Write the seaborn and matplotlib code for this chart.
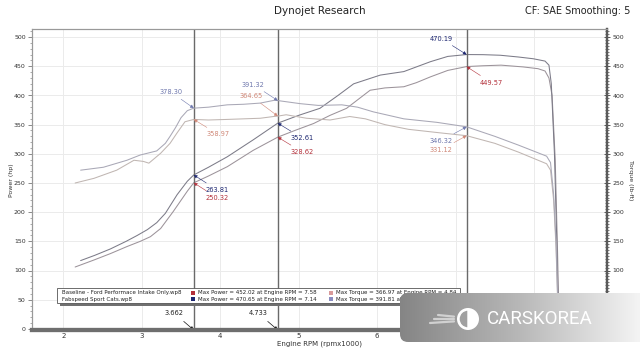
import numpy as np
import pandas as pd
import matplotlib
matplotlib.use("Agg")
import matplotlib.pyplot as plt
import seaborn as sns
from matplotlib.patches import Rectangle, FancyBboxPatch, Circle, Wedge

# ---- data ----
fab_power_rpm = [2.22, 2.40, 2.60, 2.80, 2.94, 3.07, 3.19, 3.30, 3.45, 3.58, 3.662, 3.85, 4.09, 4.42,
                 4.733, 5.00, 5.27, 5.50, 5.70, 6.04, 6.34, 6.68, 6.90, 7.14, 7.35, 7.57, 7.80, 7.99,
                 8.14, 8.19, 8.22, 8.26, 8.29, 8.31]
fab_power = [117, 126, 137, 150, 160, 170, 182, 198, 230, 253, 263.81, 277, 295, 324,
             352.61, 366, 378, 400, 420, 435, 441, 458, 467, 470.19, 470, 469, 466, 463,
             459, 452, 420, 300, 150, 20]

base_power_rpm = [2.15, 2.39, 2.60, 2.81, 2.98, 3.11, 3.24, 3.40, 3.58, 3.662, 3.85, 4.09, 4.42, 4.733,
                  4.95, 5.19, 5.40, 5.61, 5.91, 6.10, 6.34, 6.50, 6.68, 6.90, 7.14, 7.35, 7.58, 7.86,
                  8.05, 8.14, 8.19, 8.23, 8.27, 8.30, 8.32]
base_power = [106, 118, 129, 141, 150, 158, 172, 201, 236, 250.32, 262, 278, 306, 328.62,
              340, 352, 366, 378, 409, 413, 415, 422, 432, 443, 449.57, 451, 452.02, 449,
              446, 442, 430, 400, 290, 130, 10]

fab_torque_rpm = [2.22, 2.51, 2.81, 2.98, 3.10, 3.19, 3.30, 3.36, 3.43, 3.50, 3.58, 3.662, 3.85, 4.09,
                  4.30, 4.51, 4.69, 4.733, 5.02, 5.25, 5.55, 5.75, 5.95, 6.34, 6.76, 7.14, 7.50, 7.80,
                  8.16, 8.21, 8.25, 8.28, 8.31]
fab_torque = [272, 277, 289, 298, 302, 305, 318, 330, 345, 362, 374, 378.30, 380, 384,
              385, 387, 391.81, 391.32, 386, 383, 384, 380, 372, 360, 354, 346.32, 330, 315,
              296, 285, 230, 150, 10]

base_torque_rpm = [2.15, 2.39, 2.68, 2.90, 3.02, 3.09, 3.24, 3.36, 3.45, 3.55, 3.662, 3.85, 4.09, 4.30,
                   4.51, 4.68, 4.733, 4.84, 5.10, 5.40, 5.65, 5.85, 6.10, 6.40, 6.80, 7.14, 7.50, 7.80,
                   8.16, 8.21, 8.25, 8.28, 8.31]
base_torque = [250, 258, 272, 289, 287, 284, 301, 318, 336, 355, 358.97, 358, 359, 360,
               361, 364, 364.65, 366.97, 361, 358, 364, 360, 350, 342, 336, 331.12, 318, 303,
               283, 272, 220, 140, 10]

cursor_rpm = [3.662, 4.733, 7.14]

run_names = ["Baseline - Ford Performace Intake Only.wp8", "Fabspeed Sport Cats.wp8"]
max_power_text = ["Max Power = 452.02 at Engine RPM = 7.58", "Max Power = 470.65 at Engine RPM = 7.14"]
max_torque_text = ["Max Torque = 366.97 at Engine RPM = 4.84", "Max Torque = 391.81 at Engine RPM = 4.69"]

# colours
c_fab_pw, c_base_pw = "#1c2670", "#b3303a"
c_fab_tq, c_base_tq = "#6f78ad", "#d08878"
line_cols = {"fab_power": "#7c7b88", "base_power": "#9c939a",
             "fab_torque": "#a9a8b6", "base_torque": "#c0b6b2"}

W, H = 640, 360


def px(x, y):
    """pixel position (from top-left) -> figure fraction"""
    return x / W, 1 - y / H


def curve(rpm, val, name):
    return pd.DataFrame({"rpm": rpm, "value": val, "run": name})


power_df = pd.concat([curve(base_power_rpm, base_power, "base_power"),
                      curve(fab_power_rpm, fab_power, "fab_power")])
torque_df = pd.concat([curve(base_torque_rpm, base_torque, "base_torque"),
                       curve(fab_torque_rpm, fab_torque, "fab_torque")])

sns.set_style("white")
plt.rcParams["font.family"] = ["DejaVu Sans"]

fig = plt.figure(figsize=(6.4, 3.6), dpi=100)
ax = fig.add_axes([32 / W, 1 - 330 / H, (607 - 32) / W, (330 - 29) / H])
ax2 = ax.twinx()

sns.lineplot(data=power_df, x="rpm", y="value", hue="run", palette=line_cols, ax=ax,
             legend=False, linewidth=0.75, sort=False, estimator=None)
sns.lineplot(data=torque_df, x="rpm", y="value", hue="run", palette=line_cols, ax=ax2,
             legend=False, linewidth=0.75, sort=False, estimator=None)

for a in (ax, ax2):
    a.set_xlim(1.6, 8.93)
    a.set_ylim(-2, 514)
    a.set_xlabel("")
    a.set_ylabel("")

ax.set_xticks(range(2, 9))
ax.set_xticks(np.arange(2.5, 8.6, 1.0), minor=True)
ax.set_yticks(range(0, 501, 50))
ax.set_yticks(range(0, 511, 10), minor=True)
ax2.set_yticks(range(0, 501, 50))
ax2.set_yticks(range(0, 511, 5), minor=True)

ax.grid(True, which="major", color="#ebebeb", linewidth=0.7)
ax.set_axisbelow(True)

ax.tick_params(axis="x", which="both", direction="in", length=3, width=0.6, color="#777",
               labelsize=5, pad=2, labelcolor="#333")
ax.tick_params(axis="y", which="major", direction="out", length=3, width=0.6, color="#777",
               labelsize=4.5, pad=1.5, labelcolor="#333")
ax.tick_params(axis="y", which="minor", direction="out", length=1.5, width=0.5, color="#888")
ax2.tick_params(axis="y", which="major", direction="inout", length=5, width=0.7, color="#555",
                labelsize=4.5, pad=1.5, labelcolor="#333")
ax2.tick_params(axis="y", which="minor", direction="inout", length=3, width=0.6, color="#666")

for a in (ax, ax2):
    a.spines["top"].set_color("#999")
    a.spines["top"].set_linewidth(0.8)
    a.spines["left"].set_color("#999")
    a.spines["left"].set_linewidth(0.8)
    a.spines["bottom"].set_color("#6e6e6e")
    a.spines["bottom"].set_linewidth(3)
    a.spines["right"].set_color("#5a5a5a")
    a.spines["right"].set_linewidth(1.6)

ax.set_xlabel("Engine RPM (rpmx1000)", fontsize=5, color="#333", labelpad=1)
fig.text(*px(11, 180), "Power (hp)", rotation=90, fontsize=4.5, color="#333", ha="center", va="center")
fig.text(*px(631, 180), "Torque (lb-ft)", rotation=270, fontsize=4.5, color="#333", ha="center", va="center")

# cursor lines
for r in cursor_rpm:
    ax2.axvline(r, color="#6a6a6a", linewidth=1.0, zorder=1)

# cursor readouts
ann = [
    (fab_power_rpm, fab_power, 3.662, c_fab_pw, (8.6, -10.8), "left"),
    (base_power_rpm, base_power, 3.662, c_base_pw, (8.6, -10.8), "left"),
    (fab_torque_rpm, fab_torque, 3.662, c_fab_tq, (-8, 11.5), "right"),
    (base_torque_rpm, base_torque, 3.662, c_base_tq, (9.4, -10.8), "left"),
    (fab_torque_rpm, fab_torque, 4.733, c_fab_tq, (-9.4, 11.5), "right"),
    (base_torque_rpm, base_torque, 4.733, c_base_tq, (-10.8, 14.4), "right"),
    (fab_power_rpm, fab_power, 4.733, c_fab_pw, (9.4, -10.8), "left"),
    (base_power_rpm, base_power, 4.733, c_base_pw, (9.4, -10.8), "left"),
    (fab_power_rpm, fab_power, 7.14, c_fab_pw, (-10, 11.5), "right"),
    (base_power_rpm, base_power, 7.14, c_base_pw, (9.4, -11.5), "left"),
    (fab_torque_rpm, fab_torque, 7.14, c_fab_tq, (-10, -10), "right"),
    (base_torque_rpm, base_torque, 7.14, c_base_tq, (-10, -10), "right"),
]
for rpm, vals, at, col, off, ha in ann:
    v = float(np.interp(at, rpm, vals))
    ax2.annotate(f"{v:.2f}", xy=(at, v), xytext=off, textcoords="offset points",
                 fontsize=4.8, color=col, ha=ha, va="center",
                 arrowprops=dict(arrowstyle="-|>", color=col, lw=0.4, mutation_scale=5,
                                 shrinkA=1, shrinkB=0))

# rpm markers under the axis
for r in cursor_rpm[:2]:
    ax.annotate(f"{r:.3f}", xy=(r, 0), xycoords=ax.get_xaxis_transform(),
                xytext=(-14, 12), textcoords="offset points", fontsize=4.8, color="#222",
                ha="center", va="center", annotation_clip=False,
                arrowprops=dict(arrowstyle="-|>", color="#111", lw=0.5, mutation_scale=5,
                                shrinkA=2, shrinkB=0))

# titles
fig.text(*px(320, 11), "Dynojet Research", fontsize=7.5, color="#222", ha="center", va="center")
fig.text(*px(630, 11), "CF: SAE Smoothing: 5", fontsize=7, color="#222", ha="right", va="center")

# legend block
x0, y0 = px(57, 303)
fig.add_artist(Rectangle(px(60, 306), (462 - 60) / W, 4 / H, transform=fig.transFigure,
                         facecolor="#707070", edgecolor="none", zorder=5))
fig.add_artist(Rectangle((x0, y0), (460 - 57) / W, (303 - 288) / H, transform=fig.transFigure,
                         facecolor="white", edgecolor="#555", linewidth=0.6, zorder=6))
sq_cols = [(c_base_pw, "#d99a9a"), (c_fab_pw, "#8a8cc0")]
for i, yy in enumerate([292.5, 299]):
    fig.text(*px(62, yy), run_names[i], fontsize=4, color="#222", va="center", zorder=7)
    fig.add_artist(Rectangle(px(191, yy + 2), 4 / W, 4 / H, transform=fig.transFigure,
                             facecolor=sq_cols[i][0], edgecolor="none", zorder=7))
    fig.text(*px(198, yy), max_power_text[i], fontsize=4, color="#222", va="center", zorder=7)
    fig.add_artist(Rectangle(px(329, yy + 2), 4 / W, 4 / H, transform=fig.transFigure,
                             facecolor=sq_cols[i][1], edgecolor="none", zorder=7))
    fig.text(*px(336, yy), max_torque_text[i], fontsize=4, color="#222", va="center", zorder=7)

# watermark (local axes in pixel units)
wx, wy = px(400, 342)
wax = fig.add_axes([wx, wy, 240 / W, 49 / H], zorder=10)
wax.set_axis_off()
wax.set_xlim(0, 240)
wax.set_ylim(0, 49)
grad = np.linspace(0, 1, 256)[None, :]
im = wax.imshow(grad, cmap=matplotlib.colors.LinearSegmentedColormap.from_list(
    "wm", ["#858585", "#b8b8b8", "#f4f4f4"]), aspect="auto", extent=(0, 240, 0, 49))
clip = FancyBboxPatch((0, 0), 270, 49, boxstyle="round,pad=0,rounding_size=8",
                      facecolor="none", edgecolor="none")
wax.add_patch(clip)
im.set_clip_path(clip)
wax.set_xlim(0, 240)
wax.set_ylim(0, 49)
wax.add_patch(Circle((68, 23), 11, facecolor="white", edgecolor="none"))
wax.add_patch(Wedge((68, 23), 9, 90, 270, facecolor="#a0a0a0", edgecolor="white", linewidth=1.0))
for k, dy in enumerate([-4, 0, 4]):
    wax.plot([30 + 4 * k, 54], [23 + dy, 23 + dy * 0.6], color="#e0e0e0", linewidth=1.6,
             alpha=0.8, solid_capstyle="round")
wax.text(87, 23, "CARSKOREA", fontsize=13.5, color="white", ha="left", va="center",
         family="Roboto")

fig.savefig("out.png", dpi=100)
